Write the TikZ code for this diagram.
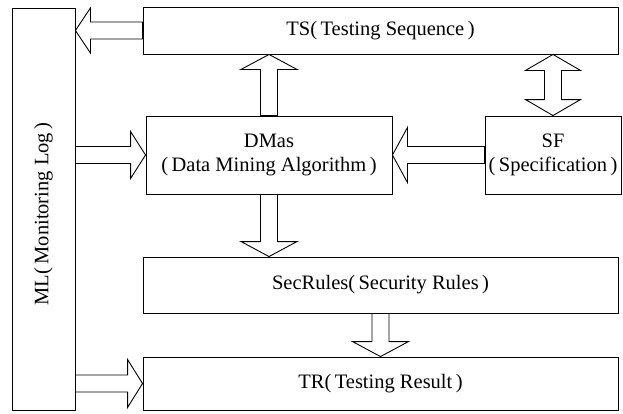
\documentclass[tikz,border=0pt]{standalone}
\usepackage{fontspec}
\setmainfont{Liberation Serif}
\usetikzlibrary{calc}

% hollow block arrow: head half-width, start, tip
\newcommand{\fatarrow}[3]{%
  \coordinate (fa-b) at ($(#3)!15pt!(#2)$);
  \draw[fat] ($(#2)!8.5pt!90:(#3)$) -- ($(fa-b)!8.5pt!90:(#3)$) -- ($(fa-b)!#1!90:(#3)$)
    -- (#3) -- ($(fa-b)!#1!-90:(#3)$) -- ($(fa-b)!8.5pt!-90:(#3)$) -- ($(#2)!8.5pt!-90:(#3)$) -- cycle;
}
% hollow block arrow with two heads
\newcommand{\fatdouble}[3]{%
  \coordinate (fa-a) at ($(#2)!16pt!(#3)$);
  \coordinate (fa-b) at ($(#3)!16pt!(#2)$);
  \draw[fat] (#2) -- ($(fa-a)!#1!90:(#3)$) -- ($(fa-a)!8.5pt!90:(#3)$) -- ($(fa-b)!8.5pt!90:(#3)$)
    -- ($(fa-b)!#1!90:(#3)$) -- (#3) -- ($(fa-b)!#1!-90:(#3)$) -- ($(fa-b)!8.5pt!-90:(#3)$)
    -- ($(fa-a)!8.5pt!-90:(#3)$) -- ($(fa-a)!#1!-90:(#3)$) -- cycle;
}

\begin{document}
\begin{tikzpicture}[
  x=1pt, y=-1pt,
  box/.style={rectangle, draw, line width=0.9pt, inner sep=0pt, align=center,
              font=\fontsize{20.5}{24}\selectfont},
  fat/.style={draw, line width=0.9pt, fill=white, line join=miter}
]
\useasboundingbox (0,0) rectangle (623,413);

\node[box, minimum width=63pt, minimum height=402pt] (ml) at (43.5,209)
  {\rotatebox{90}{ML(\,Monitoring Log\,)\hspace{10pt}}};
\node[box, minimum width=475pt, minimum height=47pt] (ts) at (380.5,30.5)
  {TS(\,Testing Sequence\,)};
\node[box, minimum width=246pt, minimum height=78pt] (dm) at (269,155)
  {DMas\\(\,Data Mining Algorithm\,)};
\node[box, minimum width=136pt, minimum height=78pt] (sf) at (553,155)
  {SF\\(\,Specification\,)};
\node[box, minimum width=475pt, minimum height=56pt] (sec) at (380.5,285)
  {SecRules(\,Security Rules\,)};
\node[box, minimum width=475pt, minimum height=53pt] (tr) at (380.5,383.5)
  {TR(\,Testing Result\,)};

\coordinate (ml-ts) at (ml.east |- ts.west);
\coordinate (ml-dm) at (ml.east |- dm.west);
\coordinate (ml-tr) at (ml.east |- tr.west);
\coordinate (ts-dm) at (dm.north |- ts.south);
\coordinate (ts-sf) at (sf.north |- ts.south);
\coordinate (sec-dm) at (dm.south |- sec.north);

\fatarrow{22.5pt}{ts.west}{ml-ts}
\fatarrow{28pt}{dm.north}{ts-dm}
\fatarrow{23.5pt}{ml-dm}{dm.west}
\fatarrow{27.5pt}{sf.west}{dm.east}
\fatdouble{27.5pt}{ts-sf}{sf.north}
\fatarrow{28pt}{dm.south}{sec-dm}
\fatarrow{28pt}{sec.south}{tr.north}
\fatarrow{24pt}{ml-tr}{tr.west}
\end{tikzpicture}
\end{document}
